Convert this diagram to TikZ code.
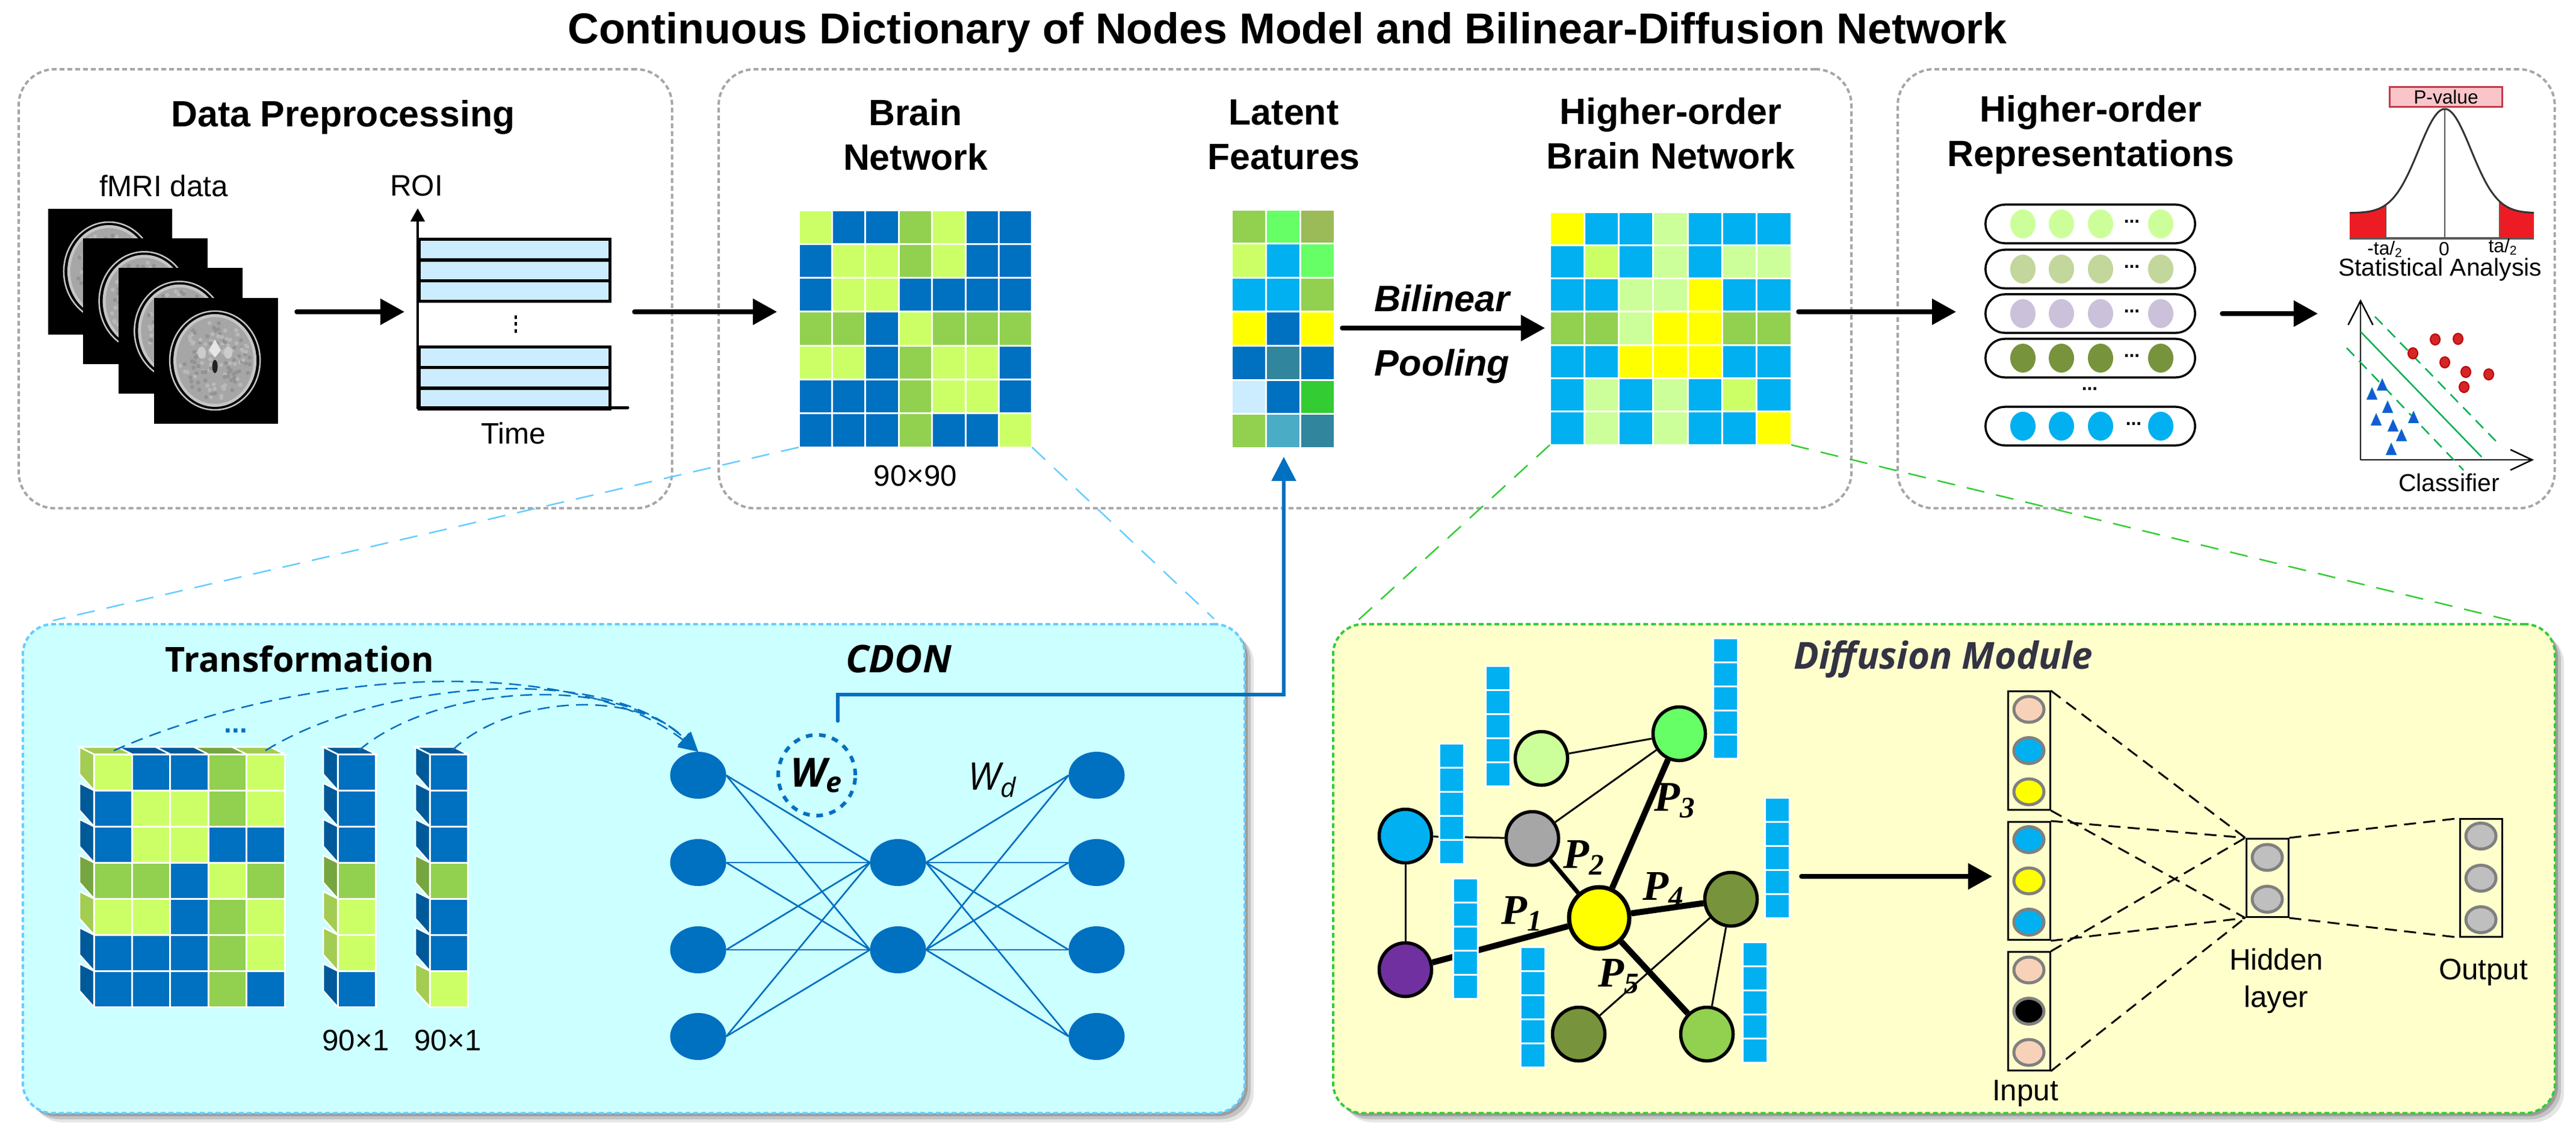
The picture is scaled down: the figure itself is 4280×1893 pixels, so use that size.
\documentclass[tikz,border=0pt]{standalone}
\usepackage{fontspec}
\setmainfont{Liberation Sans}
\newfontfamily\headfont{Open Sans}
\newfontfamily\pfont{Liberation Serif}
\usetikzlibrary{arrows.meta,shapes.geometric,shadows}
\definecolor{mlime}{HTML}{CCFF66}
\definecolor{mblue}{HTML}{0070C0}
\definecolor{mgreen}{HTML}{92D050}
\definecolor{mcyan}{HTML}{00B0F0}
\definecolor{myellow}{HTML}{FFFF00}
\definecolor{mpale}{HTML}{CCFF99}
\definecolor{mbright}{HTML}{66FF66}
\definecolor{molive}{HTML}{77933C}
\definecolor{msage}{HTML}{9BBB59}
\definecolor{mteal}{HTML}{31859C}
\definecolor{maqua}{HTML}{4BACC6}
\definecolor{msky}{HTML}{CCECFF}
\definecolor{mforest}{HTML}{33CC33}
\definecolor{mpeach}{HTML}{F8D2B8}
\definecolor{mwheat}{HTML}{C3D69B}
\definecolor{mlilac}{HTML}{CCC1DA}
\definecolor{mpurple}{HTML}{7030A0}
\definecolor{mgray}{HTML}{A6A6A6}
\definecolor{msilver}{HTML}{BFBFBF}
\definecolor{mpanel}{HTML}{CCFFFF}
\definecolor{mcream}{HTML}{FFFFCC}
\definecolor{mlink}{HTML}{66CCFF}
\definecolor{mred}{HTML}{ED1C24}
\definecolor{mpink}{HTML}{F9C5C9}
\definecolor{mcrimson}{HTML}{C0394B}
\definecolor{msvm}{HTML}{00B050}
\definecolor{mslate}{HTML}{333344}
\tikzset{
    toppanel/.style={draw=mgray, line width=.4mm, dash pattern=on .8mm off .5mm, rounded corners=6mm, anchor=north west, inner sep=0pt},
    lowpanel/.style={line width=.4mm, dash pattern=on .8mm off .5mm, rounded corners=5mm, anchor=north west, inner sep=0pt, minimum height=81.2mm,
        drop shadow={shadow xshift=1.5mm, shadow yshift=-1.5mm, fill=black, opacity=.1},
        drop shadow={shadow xshift=1mm, shadow yshift=-1mm, fill=black, opacity=.15},
        drop shadow={shadow xshift=.5mm, shadow yshift=-.5mm, fill=black, opacity=.2}},
    cellbox/.style={draw=white, line width=.3mm, anchor=north west, inner sep=0pt, outer sep=0pt},
    bigarrow/.style={line width=.75mm, line cap=round, -{Triangle[length=4mm,width=4.2mm]}},
    headtext/.style={font=\fontsize{17.3}{21}\selectfont\bfseries, align=center},
    smalltext/.style={font=\fontsize{14}{17.5}\selectfont, align=center},
    tinytext/.style={font=\fontsize{9}{11}\selectfont},
    opentext/.style={font=\headfont\fontsize{16.3}{19}\selectfont\bfseries},
    roiband/.style={draw=black, line width=.5mm, fill=msky, anchor=north west, inner sep=0pt, minimum width=31.7mm},
    reprpill/.style={draw=black, line width=.35mm, rounded corners=3.2mm, fill=white, minimum width=34.8mm, minimum height=6.4mm, inner sep=0pt},
    reprdot/.style={ellipse, minimum width=4.2mm, minimum height=4.8mm, inner sep=0pt},
    netnode/.style={ellipse, fill=mblue, minimum width=9.3mm, minimum height=7.8mm, inner sep=0pt, outer sep=0pt},
    netedge/.style={draw=mblue, line width=.27mm},
    flowcurve/.style={draw=mblue, line width=.25mm, dash pattern=on 2mm off 1.2mm, -{Triangle[length=3.2mm,width=3mm]}},
    graphnode/.style={ellipse, draw=black, line width=.55mm, minimum width=8.7mm, minimum height=8.9mm, inner sep=0pt},
    thinedge/.style={line width=.3mm},
    thickedge/.style={line width=1mm},
    plabel/.style={font=\pfont\fontsize{20}{22}\selectfont\bfseries\itshape},
    layerbox/.style={draw=black, line width=.3mm, minimum width=7mm, inner sep=0pt},
    unitdot/.style={ellipse, draw=gray, line width=.5mm, minimum width=5mm, minimum height=4.3mm, inner sep=0pt},
    layerlink/.style={line width=.3mm, dash pattern=on 2mm off 1.2mm},
    zoomlink/.style={line width=.25mm, dash pattern=on 3mm off 2mm}
}
\newcommand{\cellblock}[6]{
    \foreach \cellrow [count=\ri from 0] in {#6} {
        \foreach \cellcol [count=\ci from 0] in \cellrow {
            \node[cellbox, fill=\cellcol, minimum width=#4*0.1mm, minimum height=#5*0.1mm] (#1-\ri-\ci) at ({#2+\ci*#4},{#3+\ri*#5}) {};
        }
    }
}
\newcommand{\cubefaces}[3]{
    \foreach \cellcol [count=\ri from 0] in {#2} {
        \filldraw[draw=white, line width=.25mm, fill=\cellcol!80!black] ({#1-24},{1241+\ri*60}) -- (#1,{1253+\ri*60}) -- (#1,{1313+\ri*60}) -- ({#1-24},{1286+\ri*60}) -- cycle;
    }
    \foreach \cellcol [count=\ci from 0] in {#3} {
        \filldraw[draw=white, line width=.25mm, fill=\cellcol!80!black] ({#1+\ci*63.4},1253) -- ({#1+\ci*63.4-24},1241) -- ({#1+(\ci+1)*63.4-24},1241) -- ({#1+(\ci+1)*63.4},1253) -- cycle;
    }
}
\begin{document}
\begin{tikzpicture}[x=0.01cm, y=-0.01cm]
    \useasboundingbox (0,0) rectangle (4280,1893);

    \node[font=\fontsize{20.4}{24}\selectfont\bfseries] (title) at (2139,54) {Continuous Dictionary of Nodes Model and Bilinear-Diffusion Network};

    \node[toppanel, minimum width=108.5mm, minimum height=72.9mm] (prepanel) at (29,113) {};
    \node[toppanel, minimum width=188.1mm, minimum height=72.9mm] (netpanel) at (1192,113) {};
    \node[toppanel, minimum width=109.1mm, minimum height=72.9mm] (reppanel) at (3151,113) {};

    \node[headtext] (prehead) at (570,195) {Data Preprocessing};
    \node[smalltext] (fmrilabel) at (272,309) {fMRI data};
    \node[smalltext] (roilabel) at (692,309) {ROI};
    \node[smalltext] (timelabel) at (853,720) {Time};

    \pgfmathsetseed{11}
    \foreach \i in {0,...,3} {
        \pgfmathsetmacro{\bx}{79+58.7*\i}
        \pgfmathsetmacro{\by}{346+49.3*\i}
        \node[fill=black, anchor=north west, inner sep=0pt, minimum width=20.6mm, minimum height=20.9mm] (slice\i) at (\bx,\by) {};
        \draw[gray!45, line width=.25mm] ({\bx+102},{\by+105}) ellipse [x radius=7.5mm, y radius=8.2mm];
        \fill[gray!45] ({\bx+102},{\by+105}) ellipse [x radius=6.9mm, y radius=7.7mm];
        \fill[gray!70] ({\bx+102},{\by+105}) ellipse [x radius=6.4mm, y radius=7.2mm];
        \foreach \d in {1,...,130} {
            \pgfmathsetmacro{\da}{rnd*360}
            \pgfmathsetmacro{\dr}{sqrt(rnd)}
            \pgfmathsetmacro{\ds}{rnd>.5 ? 85 : 55}
            \fill[gray!\ds] ({\bx+102+58*\dr*cos(\da)},{\by+105+66*\dr*sin(\da)}) circle (.35mm);
        }
        \fill[gray!20] ({\bx+102},{\by+70}) -- ({\bx+112},{\by+88}) -- ({\bx+102},{\by+100}) -- ({\bx+92},{\by+88}) -- cycle;
        \fill[gray!40] ({\bx+80},{\by+92}) ellipse [x radius=.7mm, y radius=1mm];
        \fill[gray!40] ({\bx+124},{\by+92}) ellipse [x radius=.7mm, y radius=1mm];
        \fill[gray!25!black] ({\bx+102},{\by+115}) ellipse [x radius=.45mm, y radius=1.1mm];
    }

    \foreach \n/\y in {1/395,2/430,3/464,4/574,5/608,6/643} {
        \node[roiband, minimum height=3.4mm] (roi\n) at (694,\y) {};
    }
    \foreach \y in {527,538,550} {
        \fill (855,{\y-3}) rectangle (859,{\y+3});
    }
    \coordinate (roiorigin) at (694,677);
    \coordinate (roitop) at (694,346);
    \coordinate (roiend) at (1043,677);
    \draw[line width=.45mm, -{Triangle[length=2.2mm,width=2.3mm]}] (roiorigin) -- (roitop);
    \draw[line width=.5mm, line cap=round] (roiorigin) -- (roiend);

    \coordinate (stackout) at (493,518);
    \coordinate (roiin) at (672,518);
    \coordinate (roiout) at (1054,518);
    \coordinate (brainin) at (1291,518);
    \draw[bigarrow] (stackout) -- (roiin);
    \draw[bigarrow] (roiout) -- (brainin);

    \node[headtext] (brainhead) at (1521,224) {Brain\\Network};
    \node[headtext] (latenthead) at (2133,224) {Latent\\Features};
    \node[headtext] (higherhead) at (2776,222) {Higher-order\\Brain Network};

    \cellblock{bn}{1327}{349}{55.4}{56.3}{
        {mlime,mblue,mblue,mgreen,mlime,mblue,mblue},
        {mblue,mlime,mlime,mgreen,mlime,mblue,mblue},
        {mblue,mlime,mlime,mblue,mblue,mblue,mblue},
        {mgreen,mgreen,mblue,mlime,mgreen,mgreen,mgreen},
        {mlime,mlime,mblue,mgreen,mlime,mlime,mblue},
        {mblue,mblue,mblue,mgreen,mlime,mlime,mblue},
        {mblue,mblue,mblue,mgreen,mblue,mblue,mlime}}
    \node[smalltext] (bnsize) at (1521,791) {90×90};

    \cellblock{lf}{2046}{348}{57.3}{56.6}{
        {mgreen,mbright,msage},
        {mlime,mcyan,mbright},
        {mcyan,mcyan,mgreen},
        {myellow,mblue,myellow},
        {mblue,mteal,mblue},
        {msky,mblue,mforest},
        {mgreen,maqua,mteal}}

    \cellblock{hb}{2575}{352}{57.3}{55.3}{
        {myellow,mcyan,mcyan,mpale,mcyan,mcyan,mcyan},
        {mcyan,mlime,mcyan,mpale,mcyan,mpale,mpale},
        {mcyan,mcyan,mpale,mpale,myellow,mcyan,mcyan},
        {mgreen,mgreen,mpale,myellow,myellow,mgreen,mgreen},
        {mcyan,mcyan,myellow,myellow,myellow,mcyan,mcyan},
        {mcyan,mpale,mcyan,mpale,mcyan,mlime,mcyan},
        {mcyan,mpale,mcyan,mpale,mcyan,mcyan,myellow}}

    \coordinate (poolin) at (2230,545);
    \coordinate (poolout) at (2567,545);
    \draw[bigarrow] (poolin) -- (poolout);
    \node[font=\fontsize{17.4}{20}\selectfont\bfseries\itshape] (bilinear) at (2396,496) {Bilinear};
    \node[font=\fontsize{17.4}{20}\selectfont\bfseries\itshape] (pooling) at (2396,609) {Pooling};

    \coordinate (hbout) at (2988,518);
    \coordinate (repin) at (3250,518);
    \coordinate (repout) at (3692,521);
    \coordinate (anain) at (3851,521);
    \draw[bigarrow] (hbout) -- (repin);
    \draw[bigarrow] (repout) -- (anain);

    \node[headtext] (rephead) at (3474,224) {Higher-order\\Representations};
    \foreach \n/\y/\c/\dx in {1/372/mpale/3542,2/447/mwheat/3542,3/521/mlilac/3542,4/595/molive/3542,5/708/mcyan/3545} {
        \node[reprpill] (pill\n) at (3473,\y) {};
        \foreach \x [count=\k] in {3361,3425,3490,3590} {
            \node[reprdot, fill=\c] (pill\n-\k) at (\x,\y) {};
        }
        \node[font=\fontsize{9}{11}\selectfont\bfseries] (pilldots\n) at (\dx,{\y-4}) {...};
    }
    \node[font=\fontsize{9}{11}\selectfont\bfseries] (rowdots) at (3472,646) {...};

    \fill[mred] (3904,396) -- plot[domain=-158:-98, samples=14] ({4062+\x},{354-173*exp(-(\x/61.6)*(\x/61.6))}) -- (3964,396) -- cycle;
    \fill[mred] (4153,396) -- plot[domain=91:148, samples=14] ({4062+\x},{354-173*exp(-(\x/61.6)*(\x/61.6))}) -- (4210,396) -- cycle;
    \draw[gray!70!black, line width=.25mm] (3964,340) -- (3964,396) (4062,181) -- (4062,396) (4153,333) -- (4153,396);
    \draw[gray!70!black, line width=.35mm] (3904,396) -- (4210,396);
    \draw[black!80, line width=.3mm] plot[domain=-158:148, samples=70, smooth] ({4062+\x},{354-173*exp(-(\x/61.6)*(\x/61.6))});
    \node[draw=mcrimson, fill=mpink, line width=.25mm, minimum width=18.7mm, minimum height=3.3mm, inner sep=0pt, tinytext] (pvalue) at (4064,161) {P-value};
    \node[tinytext] (lefttail) at (3963,414) {-ta/\textsubscript{2}};
    \node[tinytext] (zerotick) at (4061,414) {0};
    \node[tinytext] (righttail) at (4159,410) {ta/\textsubscript{2}};
    \node[font=\fontsize{11.6}{14}\selectfont] (statlabel) at (4054,448) {Statistical Analysis};

    \draw[line width=.25mm, -{Straight Barb[length=4mm,width=4.1mm]}] (3922,764) -- (3922,497);
    \draw[line width=.25mm, -{Straight Barb[length=3.6mm,width=3.4mm]}] (3922,764) -- (4210,764);
    \draw[msvm, line width=.25mm] (3922,551) -- (4123,759);
    \draw[msvm, line width=.25mm, dash pattern=on 1.8mm off 1.2mm] (3946,526) -- (4147,733);
    \draw[msvm, line width=.25mm, dash pattern=on 1.8mm off 1.2mm] (3899,578) -- (4093,781);
    \foreach \x/\y in {4046/564,4084/563,4009/587,4062/602,4097/618,4135/622,4094/643} {
        \filldraw[draw=red!75!black, fill=red!80!black!85, line width=.2mm] (\x,\y) ellipse [x radius=.8mm, y radius=.9mm];
    }
    \foreach \x/\y in {3958/639,3941/654,3967/676,4010/693,3948/697,3976/707,3990/723,3973/746} {
        \filldraw[draw=mblue, fill=blue!40!mblue!90, line width=.15mm] ({\x-8},{\y+9}) -- ({\x+8},{\y+9}) -- (\x,{\y-9}) -- cycle;
    }
    \node[font=\fontsize{11.6}{14}\selectfont] (classlabel) at (4069,802) {Classifier};

    \node[lowpanel, draw=mlink, fill=mpanel, minimum width=202.9mm] (cdonpanel) at (36,1035) {};
    \node[lowpanel, draw=mforest, fill=mcream, minimum width=202.9mm] (diffpanel) at (2213,1035) {};

    \coordinate (blueleft) at (88,1031);
    \coordinate (blueright) at (2017,1028);
    \coordinate (greenleft) at (2246,1040);
    \coordinate (greenright) at (4176,1032);
    \draw[zoomlink, mlink] (bn-6-0.south west) -- (blueleft);
    \draw[zoomlink, mlink] (bn-6-6.south east) -- (blueright);
    \draw[zoomlink, mforest] (hb-6-0.south west) -- (greenleft);
    \draw[zoomlink, mforest] (hb-6-6.south east) -- (greenright);

    \node[opentext] (transhead) at (498,1095) {Transformation};
    \node[font=\headfont\fontsize{18}{21}\selectfont\bfseries\itshape] (cdonhead) at (1493,1095) {CDON};
    \node[text=mslate, font=\headfont\fontsize{17.6}{21}\selectfont\bfseries\itshape] (diffhead) at (3229,1095) {Diffusion Module};

    \cubefaces{156}{mlime,mblue,mblue,mgreen,mlime,mblue,mblue}{mlime,mblue,mblue,mgreen,mlime}
    \cellblock{ts}{156}{1253}{63.4}{60}{
        {mlime,mblue,mblue,mgreen,mlime},
        {mblue,mlime,mlime,mgreen,mlime},
        {mblue,mlime,mlime,mblue,mblue},
        {mgreen,mgreen,mblue,mlime,mgreen},
        {mlime,mlime,mblue,mgreen,mlime},
        {mblue,mblue,mblue,mgreen,mlime},
        {mblue,mblue,mblue,mgreen,mblue}}
    \cubefaces{561}{mblue,mblue,mblue,mgreen,mlime,mlime,mblue}{mblue}
    \cellblock{ca}{561}{1253}{63.4}{60}{{mblue},{mblue},{mblue},{mgreen},{mlime},{mlime},{mblue}}
    \cubefaces{714}{mblue,mblue,mblue,mgreen,mblue,mblue,mlime}{mblue}
    \cellblock{cb}{714}{1253}{63.4}{60}{{mblue},{mblue},{mblue},{mgreen},{mblue},{mblue},{mlime}}
    \node[text=mblue, font=\fontsize{13}{14}\selectfont\bfseries] (stackdots) at (392,1214) {...};
    \node[smalltext] (casize) at (591,1729) {90×1};
    \node[smalltext] (cbsize) at (744,1729) {90×1};

    \foreach \n/\y in {1/1288,2/1433,3/1578,4/1722} {
        \node[netnode] (inn\n) at (1160,\y) {};
        \node[netnode] (outn\n) at (1822,\y) {};
    }
    \foreach \n/\y in {1/1433,2/1578} {
        \node[netnode] (midn\n) at (1492,\y) {};
    }
    \foreach \a in {1,...,4} {
        \foreach \b in {1,2} {
            \draw[netedge] (inn\a.east) -- (midn\b.west);
            \draw[netedge] (midn\b.east) -- (outn\a.west);
        }
    }

    \coordinate (stacka) at (189,1247);
    \coordinate (stackb) at (441,1247);
    \coordinate (stackc) at (596,1247);
    \coordinate (stackd) at (751,1247);
    \draw[flowcurve] (stacka) .. controls (500,1110) and (950,1085) .. (inn1.north);
    \draw[flowcurve] (stackb) .. controls (620,1135) and (1000,1095) .. (inn1.north);
    \draw[flowcurve] (stackc) .. controls (720,1140) and (1020,1115) .. (inn1.north);
    \draw[flowcurve] (stackd) .. controls (840,1160) and (1050,1140) .. (inn1.north);

    \node[ellipse, draw=mblue, line width=.6mm, dash pattern=on 1.1mm off 1.1mm, minimum width=12.8mm, minimum height=13.4mm, inner sep=0pt, font=\headfont\fontsize{19}{21}\selectfont\bfseries\itshape] (encw) at (1357,1288) {W\textsubscript{e}};
    \node[font=\headfont\fontsize{18}{21}\selectfont\itshape] (decw) at (1649,1296) {W\textsubscript{d}};

    \coordinate (encout) at (1392,1198);
    \coordinate (latentbend) at (2133,1154);
    \coordinate (latentin) at (2133,759);
    \draw[mblue, line width=.55mm, line cap=round, -{Triangle[length=4mm,width=4mm]}] (encout) -- (encout |- latentbend) -- (latentbend) -- (latentin);

    \node[graphnode, fill=mpale] (gpale) at (2561,1260) {};
    \node[graphnode, fill=mcyan] (gcyan) at (2335,1389) {};
    \node[graphnode, fill=mgray] (ggray) at (2546,1393) {};
    \node[graphnode, fill=mbright] (gbright) at (2790,1219) {};
    \node[graphnode, fill=myellow, line width=.7mm, minimum width=10mm, minimum height=10.2mm] (gcentre) at (2657,1525) {};
    \node[graphnode, fill=molive] (gomid) at (2876,1494) {};
    \node[graphnode, fill=mpurple] (gpurple) at (2335,1611) {};
    \node[graphnode, fill=molive] (golow) at (2623,1718) {};
    \node[graphnode, fill=mgreen] (ggreen) at (2836,1718) {};

    \draw[thinedge] (gpale) -- (gbright);
    \draw[thinedge] (gbright) -- (ggray);
    \draw[thinedge] (gcyan) -- (ggray);
    \draw[thinedge] (gcyan) -- (gpurple);
    \draw[thinedge] (gomid) -- (golow);
    \draw[thinedge] (gomid) -- (ggreen);
    \draw[thickedge] (gpurple) -- (gcentre);
    \draw[thickedge, line width=.7mm] (ggray) -- (gcentre);
    \draw[thickedge] (gbright) -- (gcentre);
    \draw[thickedge] (gcentre) -- (gomid);
    \draw[thickedge] (gcentre) -- (ggreen);

    \foreach \n/\x/\y in {1/2468/1106,2/2846/1060,3/2391/1235,4/2932/1325,5/2414/1459,6/2526/1573,7/2895/1565} {
        \cellblock{bar\n}{\x}{\y}{41}{40}{{mcyan},{mcyan},{mcyan},{mcyan},{mcyan}}
    }

    \node[plabel] (pone) at (2529,1518) {P\textsubscript{1}};
    \node[plabel] (ptwo) at (2632,1425) {P\textsubscript{2}};
    \node[plabel] (pthree) at (2783,1330) {P\textsubscript{3}};
    \node[plabel] (pfour) at (2764,1478) {P\textsubscript{4}};
    \node[plabel] (pfive) at (2690,1622) {P\textsubscript{5}};

    \coordinate (graphout) at (2993,1456);
    \coordinate (mlpin) at (3310,1456);
    \draw[bigarrow] (graphout) -- (mlpin);

    \foreach \n/\y/\ca/\cb/\cc in {a/1247/mpeach/mcyan/myellow,b/1463.5/mcyan/myellow/mcyan,c/1680/mpeach/black/mpeach} {
        \node[layerbox, minimum height=19.6mm] (box\n) at (3371,\y) {};
        \node[unitdot, fill=\ca] (unit\n1) at (3371,{\y-68.5}) {};
        \node[unitdot, fill=\cb] (unit\n2) at (3371,\y) {};
        \node[unitdot, fill=\cc] (unit\n3) at (3371,{\y+68.5}) {};
    }
    \node[layerbox, minimum height=13mm] (boxh) at (3767,1458.5) {};
    \node[unitdot, fill=msilver] (unith1) at (3767,1424.5) {};
    \node[unitdot, fill=msilver] (unith2) at (3767,1494) {};
    \node[layerbox, minimum height=19.5mm] (boxo) at (4122,1458.5) {};
    \node[unitdot, fill=msilver] (unito1) at (4122,1389) {};
    \node[unitdot, fill=msilver] (unito2) at (4122,1459) {};
    \node[unitdot, fill=msilver] (unito3) at (4122,1528) {};

    \foreach \n in {a,b,c} {
        \draw[layerlink] (box\n.north east) -- (boxh.north west);
        \draw[layerlink] (box\n.south east) -- (boxh.south west);
    }
    \draw[layerlink] (boxh.north east) -- (boxo.north west);
    \draw[layerlink] (boxh.south east) -- (boxo.south west);

    \node[smalltext] (inputlabel) at (3365,1817) {Input};
    \node[smalltext] (hiddenlabel) at (3782,1630) {Hidden\\layer};
    \node[smalltext] (outputlabel) at (4126,1615) {Output};
\end{tikzpicture}
\end{document}
